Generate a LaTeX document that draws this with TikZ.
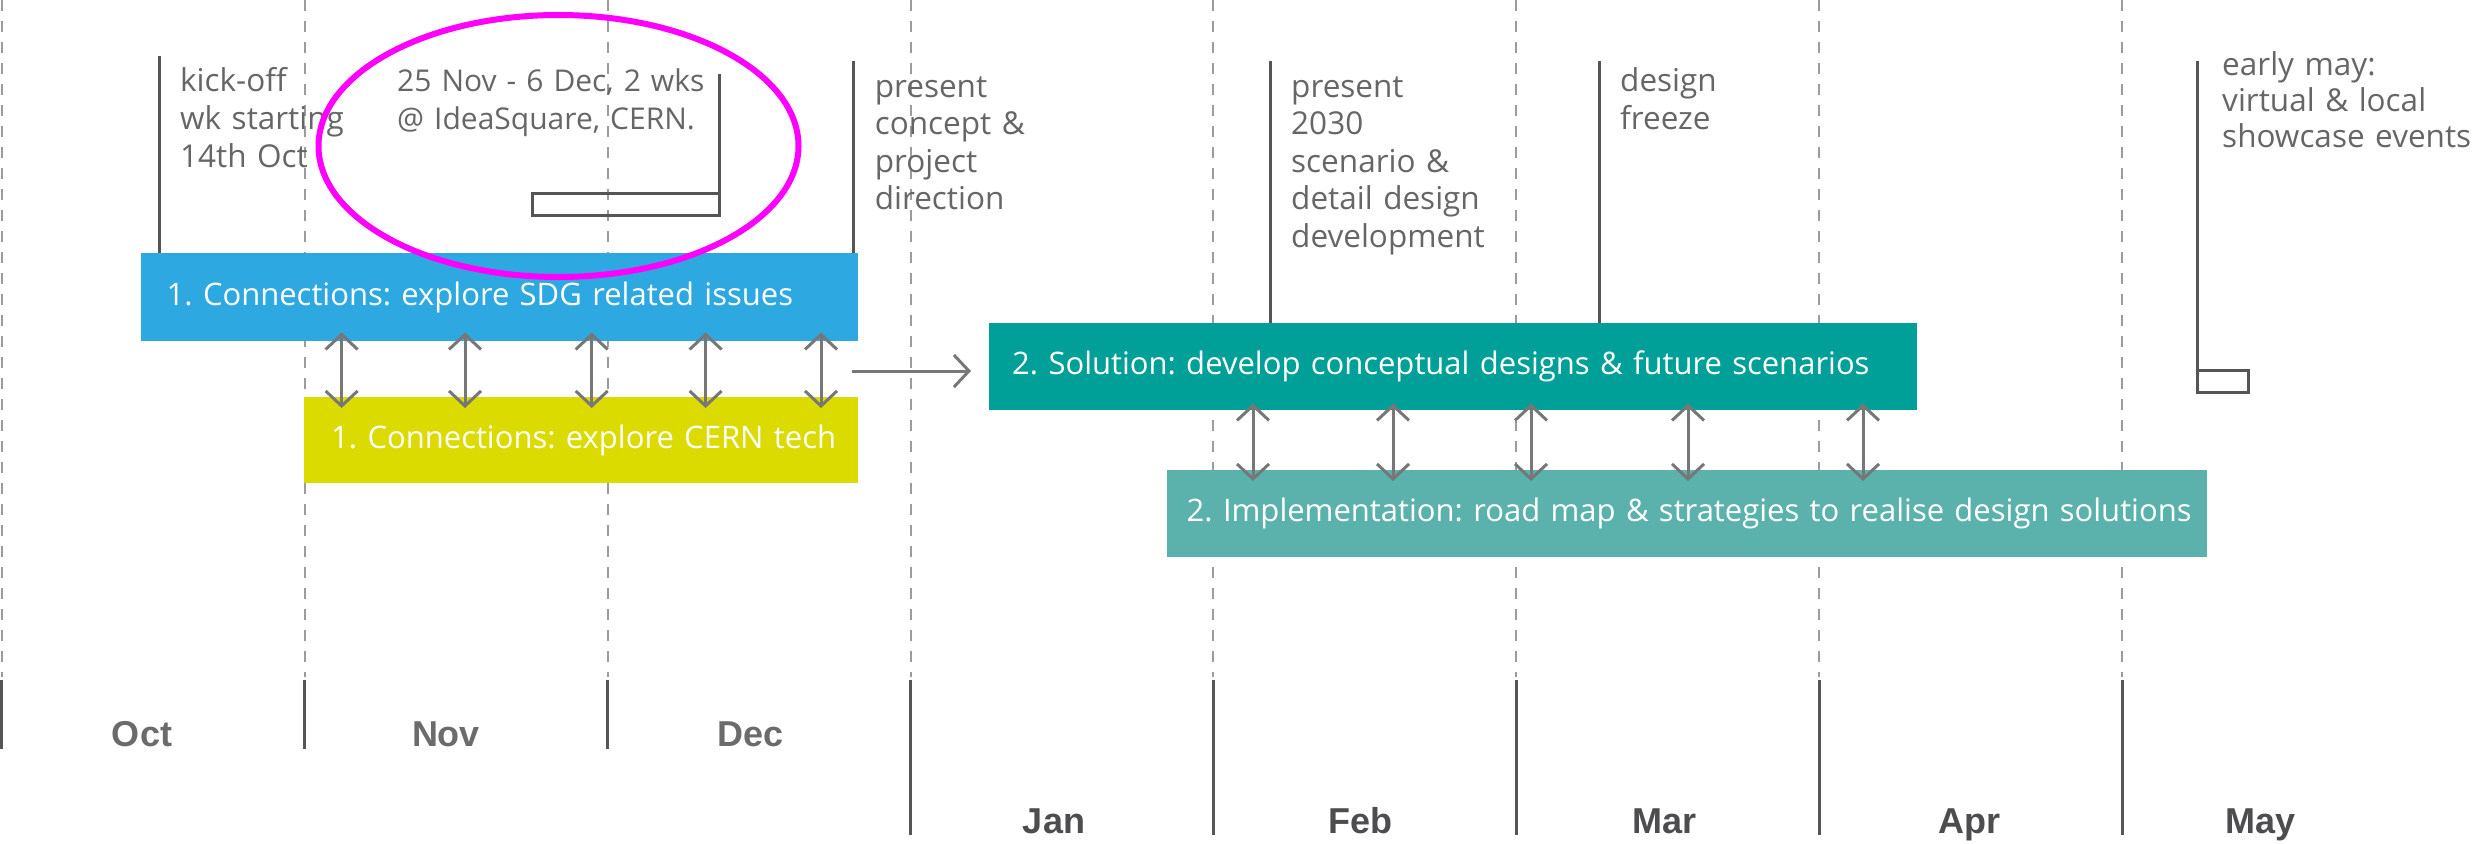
\documentclass[tikz,border=0pt]{standalone}
\usepackage{fontspec}
\setmainfont{Open Sans}
\newfontfamily\monthfont{Liberation Sans}
\usetikzlibrary{arrows.meta,calc}
\definecolor{sdgblue}{HTML}{2EA8E0}
\definecolor{cernyellow}{HTML}{DCDB00}
\definecolor{solteal}{HTML}{00A099}
\definecolor{impteal}{HTML}{5BB2AC}
\definecolor{gridgray}{HTML}{9C9C9C}
\definecolor{linegray}{HTML}{555555}
\definecolor{txtgray}{HTML}{666666}
\definecolor{arrgray}{HTML}{777777}
\definecolor{mag}{HTML}{FF00FF}
\definecolor{monthA}{HTML}{6B6B6B}
\definecolor{monthB}{HTML}{4D4D4F}
\frenchspacing
\begin{document}
\begin{tikzpicture}[x=1pt,y=-1pt,
  gridline/.style={gridgray, line width=2pt, dash pattern=on 11pt off 10pt},
  tickline/.style={linegray, line width=3pt},
  annline/.style={linegray, line width=3pt, line join=miter},
  phasebox/.style={anchor=north west, inner ysep=0pt, text=white,
    font=\frenchspacing\fontsize{31}{36}\selectfont, align=left},
  note/.style={anchor=base west, inner sep=0pt, text=txtgray, align=left,
    text width=400pt, font=\frenchspacing\fontsize{31.5}{37.6}\selectfont},
  monthlbl/.style={anchor=base, inner sep=0pt, font=\monthfont\bfseries\fontsize{36}{40}\selectfont},
  dbl/.style={arrgray, line width=3pt,
    {Straight Barb[length=15pt,width=32pt]}-{Straight Barb[length=15pt,width=32pt]}},
  sarr/.style={arrgray, line width=3pt, -{Straight Barb[length=15pt,width=32pt]}},
]
\useasboundingbox (0,0) rectangle (2483,843);

% month grid
\foreach \k in {0,...,7} {
  \draw[gridline] ({1.7+302.93*\k},0) -- ({1.7+302.93*\k},677);
}
\foreach \k in {0,1,2} {
  \draw[tickline] ({1.7+302.93*\k},680) -- ({1.7+302.93*\k},749);
}
\foreach \k in {3,...,7} {
  \draw[tickline] ({1.7+302.93*\k},680) -- ({1.7+302.93*\k},835);
}

% month labels
\node[monthlbl, text=monthA] (oct) at (142,746) {Oct};
\node[monthlbl, text=monthA] (nov) at (446,746) {Nov};
\node[monthlbl, text=monthA] (dec) at (751,746) {Dec};
\node[monthlbl, text=monthB] (jan) at (1054,833) {Jan};
\node[monthlbl, text=monthB] (feb) at (1360,833) {Feb};
\node[monthlbl, text=monthB] (mar) at (1664,833) {Mar};
\node[monthlbl, text=monthB] (apr) at (1969,833) {Apr};
\node[monthlbl, text=monthB] (may) at (2260,833) {May};

% phase boxes
\node[phasebox, fill=sdgblue, minimum height=88pt, inner xsep=25.5pt, text width=666pt]
  (sdg) at (141,253) {\mbox{1. Connections: explore SDG related issues}};
\node[phasebox, fill=cernyellow, minimum height=86pt, inner xsep=27pt, text width=500pt]
  (cern) at (304,397) {\mbox{1. Connections: explore CERN tech}};
\node[phasebox, fill=solteal, minimum height=87pt, inner xsep=23pt, text width=882pt]
  (sol) at (989,323) {\mbox{2. Solution: develop conceptual designs \& future scenarios}};
\node[phasebox, fill=impteal, minimum height=87pt, inner xsep=19.5pt, text width=1001pt]
  (imp) at (1167,470) {\mbox{2. Implementation: road map \& strategies to realise design solutions}};

% double arrows
\foreach \x in {341.6,465,591.7,705.6,821} {
  \draw[dbl, shorten <=-9pt, shorten >=-11pt] (\x,0 |- sdg.south) -- (\x,0 |- cern.north);
}
\foreach \x in {1253,1393,1531,1688,1863} {
  \draw[dbl, shorten <=-7pt, shorten >=-11pt] (\x,0 |- sol.south) -- (\x,0 |- imp.north);
}
\coordinate (rs) at (852,371);
\draw[sarr, shorten >=18pt] (rs) -- (rs -| sol.west);

% annotation lines
\draw[annline] (159.6,56) -- (159.6,0 |- sdg.north);
\draw[annline] (853.6,61) -- (853.6,0 |- sdg.north);
\draw[annline] (1270.7,61) -- (1270.7,0 |- sol.north);
\draw[annline] (1599.6,61) -- (1599.6,0 |- sol.north);
\draw[annline] (719,74) -- (719,215) -- (532,215) -- (532,193) -- (719,193);
\draw[annline] (2197,61) -- (2197,392) -- (2248,392) -- (2248,370) -- (2197,370);

% notes
\node[note] (kick) at (180,92) {kick-off\\wk starting\\14th Oct};
\node[note, font=\frenchspacing\fontsize{30}{37.6}\selectfont] (idea) at (397,92) {25 Nov - 6 Dec, 2 wks\\@ IdeaSquare, CERN.};
\node[note] (concept) at (874.6,97) {present\\concept \&\\project\\direction};
\node[note] (scen) at (1291,97) {present\\2030\\scenario \&\\detail design\\development};
\node[note] (freeze) at (1620,92) {design\\freeze};
\node[note, font=\frenchspacing\fontsize{31.5}{36}\selectfont] (show) at (2222,75) {early may:\\virtual \& local\\showcase events};

% highlight
\draw[mag, line width=6pt] (558.5,146) ellipse [x radius=240, y radius=131];
\end{tikzpicture}
\end{document}
